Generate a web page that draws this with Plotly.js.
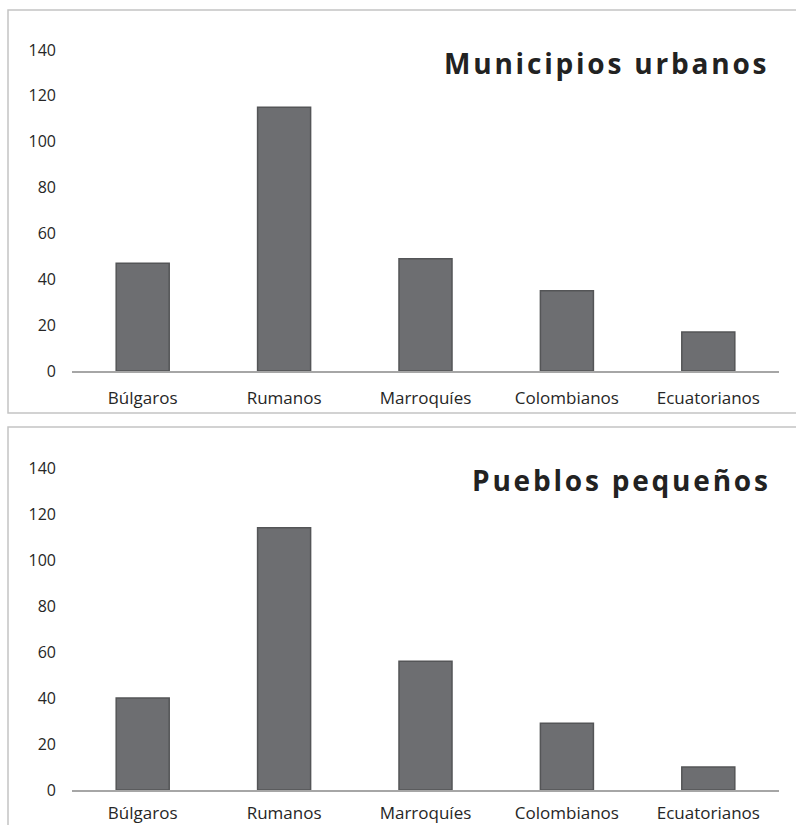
<!DOCTYPE html>
<html>
<head>
<meta charset="utf-8">
<script src="https://cdn.plot.ly/plotly-3.0.1.min.js"></script>
<style>
  html, body { margin: 0; padding: 0; background: #fff; }
  #chart { width: 796px; height: 825px; }
  .annotation-text { letter-spacing: 2.8px; }
</style>
</head>
<body>
<div id="chart"></div>
<script>
const categories = ["Búlgaros", "Rumanos", "Marroquíes", "Colombianos", "Ecuatorianos"];
const urbanValues = [47, 115, 49, 35, 17];
const smallTownValues = [40, 114, 56, 29, 10];
const yTickValues = [0, 20, 40, 60, 80, 100, 120, 140];
const titleUrban = "Municipios urbanos";
const titleSmall = "Pueblos pequeños";

const W = 796, H = 825;
const px = x => x / W;
const py = y => 1 - y / H;

const barStyle = {
  color: "#6d6e71",
  line: { color: "#545557", width: 1.5 }
};

const traces = [
  { type: "bar", x: categories, y: urbanValues, xaxis: "x", yaxis: "y",
    width: 0.375, marker: barStyle, hoverinfo: "x+y" },
  { type: "bar", x: categories, y: smallTownValues, xaxis: "x2", yaxis: "y2",
    width: 0.375, marker: barStyle, hoverinfo: "x+y" }
];

const tickFont = { family: "Open Sans, sans-serif", size: 16, color: "#262626" };
const xTickFont = { family: "Open Sans, sans-serif", size: 17, color: "#262626" };

const xBase = {
  domain: [px(72), px(779)],
  showline: true, linecolor: "#a6a6a6", linewidth: 2,
  showgrid: false, zeroline: false, ticks: "",
  tickfont: xTickFont, ticklabelstandoff: 11, fixedrange: true
};
const yBase = {
  range: [0, 140], tickvals: yTickValues, showgrid: false, zeroline: false,
  showline: false, ticks: "", tickfont: tickFont, ticklabelstandoff: 15, fixedrange: true
};

const layout = {
  width: W, height: H,
  margin: { l: 0, r: 0, t: 0, b: 0 },
  paper_bgcolor: "#fff", plot_bgcolor: "rgba(0,0,0,0)",
  showlegend: false,
  xaxis: Object.assign({}, xBase, { anchor: "y" }),
  yaxis: Object.assign({}, yBase, { domain: [py(371), py(50)], anchor: "x" }),
  xaxis2: Object.assign({}, xBase, { anchor: "y2", ticklabelstandoff: 7 }),
  yaxis2: Object.assign({}, yBase, { domain: [py(790), py(468)], anchor: "x2" }),
  shapes: [
    { type: "rect", xref: "paper", yref: "paper", x0: px(8), x1: px(800), y0: py(413), y1: py(10),
      line: { color: "#c4c4c4", width: 1.5 }, fillcolor: "rgba(0,0,0,0)", layer: "below" },
    { type: "rect", xref: "paper", yref: "paper", x0: px(8), x1: px(800), y0: py(830), y1: py(427),
      line: { color: "#c4c4c4", width: 1.5 }, fillcolor: "rgba(0,0,0,0)", layer: "below" }
  ],
  annotations: [
    { text: "<b>" + titleUrban + "</b>", xref: "paper", yref: "paper", x: px(771), y: py(63),
      xanchor: "right", yanchor: "middle", showarrow: false,
      font: { family: "Open Sans, sans-serif", size: 28, color: "#222" } },
    { text: "<b>" + titleSmall + "</b>", xref: "paper", yref: "paper", x: px(773), y: py(480),
      xanchor: "right", yanchor: "middle", showarrow: false,
      font: { family: "Open Sans, sans-serif", size: 28, color: "#222" } }
  ]
};

Plotly.newPlot("chart", traces, layout, { displayModeBar: false, staticPlot: true });
</script>
</body>
</html>
